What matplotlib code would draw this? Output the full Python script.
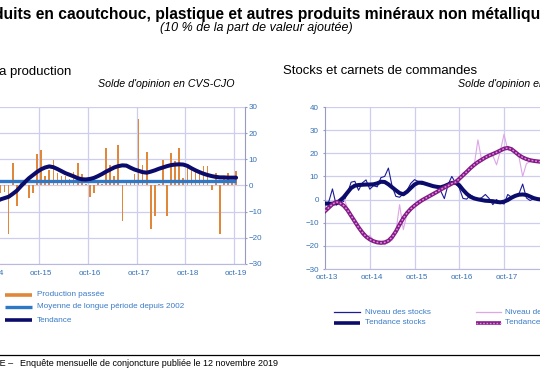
import matplotlib
matplotlib.use("Agg")
import matplotlib.pyplot as plt
from matplotlib.lines import Line2D
import numpy as np

plt.rcParams['font.family'] = ['Liberation Sans', 'DejaVu Sans']

# ---------------- data ----------------
# Left chart: monthly, starting oct-14
production = [-2, -1.5, -3, -2.5, -18.5, 8.6, -8, 1, 0.5, -4.7, -2.8, 12, 13.5, 3.8, 6, 9.6,
              4.8, 3.5, 3.8, 2.5, 5, 8.5, 4.5, 0.5, -4.3, -2.8, 1, 0.5, 14.3, 7.7, 3.8, 15.4,
              -13.7, 1.5, 2, 4.5, 25.4, 8, 12.8, -16.7, -11.8, 0.5, 9.9, -11.8, 12.6, 9.2, 14.2,
              3, 6.9, 6.9, 5.8, 5.8, 7.3, 7.3, -1.7, 4.9, -18.4, 2.5, 4.9, 2, 5.4]
tendance = [-6.5, -6, -5.3, -4.8, -4.3, -3.2, -2, -0.3, 1.3, 2.8, 4.0, 5.2, 6.2, 6.9, 7.3, 7.0,
            6.3, 5.5, 4.7, 4.1, 3.5, 2.8, 2.4, 2.3, 2.5, 2.9, 3.6, 4.4, 5.3, 6.1, 6.9, 7.4,
            7.7, 7.6, 6.8, 6.1, 5.6, 5.1, 4.9, 5.3, 5.8, 6.4, 6.9, 7.4, 7.8, 8.0, 8.1,
            8.0, 7.5, 6.6, 5.8, 5.1, 4.5, 4.0, 3.6, 3.3, 3.1, 3.1, 3.0, 3.0, 3.0]
moyenne = 1.9
left_ticklabels = ["oct-14", "oct-15", "oct-16", "oct-17", "oct-18", "oct-19"]

# Right chart: monthly, starting oct-13
niveau_stocks = [-1.7, -1.0, 4.6, -2.4, -1.5, -0.8, 2.5, 7.5, 7.9, 4.0, 7.2, 8.5, 4.5, 6.0, 5.5, 9.5,
                 10.0, 13.6, 5.7, 1.4, 1.0, 2.5, 4.0, 7.0, 8.6, 7.8, 6.5, 7.0, 6.2, 5.5, 6.0, 3.8,
                 0.4, 6.5, 10.0, 7.2, 5.0, 0.5, 0.2, 2.0, 1.0, 0.2, 0.8, 2.2, 0.5, -2.2, 0.0,
                 -1.5, -1.9, 2.2, 1.0, 1.8, 2.5, 6.7, 0.7, -0.4, 0.5, 0.3, -0.5, 0.5, 0.0]
tendance_stocks = [-1.7, -1.8, -1.8, -1.5, -0.5, 1.0, 3.0, 5.0, 6.0, 6.3, 6.4, 6.5, 6.5, 6.6, 7.0, 7.7,
                   7.6, 6.6, 5.3, 4.0, 2.8, 2.3, 3.4, 5.0, 6.5, 7.3, 7.3, 6.8, 6.3, 5.8, 5.5, 5.3,
                   5.8, 6.5, 7.2, 7.3, 6.2, 4.2, 2.5, 1.2, 0.5, 0.1, -0.2, -0.5, -0.6, -0.7, -1.0,
                   -1.2, -0.9, -0.2, 0.8, 1.6, 2.1, 2.2, 2.0, 1.3, 0.6, 0.2, 0.0, -0.1, -0.2]
niveau_carnets = [-4.0, -3.0, -1.5, -1.0, 0.5, 0.8, -3.5, -6.0, -10.5, -11.5, -15.5, -16.5, -15.5, -17.5,
                  -18.2, -18.0, -19.5, -18.5, -17.5, -14.0, -2.2, -13.0, -6.0, -4.5, -2.0, -1.8, -0.5,
                  1.0, 1.2, 2.8, 3.5, 3.6, 5.8, 6.2, 6.5, 8.5, 9.0, 11.5, 12.5, 14.0, 14.8, 25.8,
                  17.0, 18.5, 19.5, 19.0, 15.0, 21.0, 28.2, 21.5, 21.0, 20.5, 18.5, 10.0, 15.5, 16.5,
                  17.0, 16.5, 16.0, 15.5, 15.0]
tendance_carnets = [-5.0, -3.5, -2.0, -1.0, -1.5, -2.6, -4.5, -7.0, -9.5, -12.0, -14.2, -16.0, -17.2,
                    -18.0, -18.5, -18.7, -18.5, -17.8, -16.2, -13.8, -10.8, -8.0, -5.8, -4.0, -2.6,
                    -1.4, -0.3, 0.6, 1.5, 2.4, 3.3, 4.3, 5.2, 6.0, 6.9, 7.5, 9.0, 10.5, 12.0, 13.6,
                    15.0, 16.2, 17.2, 18.2, 19.0, 19.7, 20.4, 21.2, 22.0, 22.3, 21.8, 20.5, 19.2,
                    18.2, 17.5, 17.0, 16.7, 16.5, 16.3, 16.0, 15.8]
right_ticklabels = ["oct-13", "oct-14", "oct-15", "oct-16", "oct-17", "oct-18", "oct-19"]

# ---------------- style ----------------
ORANGE = '#E0873A'
BLUE = '#2F78C8'
NAVY = '#0B0B6B'
NAVY_THIN = '#1C1C96'
PINK = '#DDA6E6'
PURPLE = '#7D1E80'
PINKDOT = '#F07CF0'
GRID = '#CDCDF0'
TICKC = '#3470B4'
LEGC = '#3A7BC6'

W, H = 540, 375
fig = plt.figure(figsize=(W / 100, H / 100), dpi=100)
fig.patch.set_facecolor('white')


def fx(px):
    return px / W


def fy(py):
    return 1 - py / H


renderer = fig.canvas.get_renderer()


def width_px(s, fs, **kw):
    t = fig.text(0, 0, s, fontsize=fs, **kw)
    w = t.get_window_extent(renderer).width
    t.remove()
    return w


def fit_size(s, target, **kw):
    return 10 * target / width_px(s, 10, **kw)


# ---------------- left chart ----------------
axL = fig.add_axes([fx(-15.7), fy(264), 260.7 / W, 157 / H])
kL = np.arange(len(production))
axL.bar(kL, production, width=0.4, color=ORANGE, zorder=2, linewidth=0)
axL.plot(kL, [moyenne] * len(kL), color=BLUE, lw=2.4, zorder=3, solid_capstyle='butt')
axL.plot(kL, tendance, color=NAVY, lw=2.9, zorder=4, solid_capstyle='round')
axL.set_xlim(-2, 62.2)
axL.set_ylim(-30, 30)
axL.set_yticks(range(-30, 31, 10))
axL.yaxis.tick_right()
axL.set_xticks([12 * j for j in range(len(left_ticklabels))])
axL.set_xticklabels(left_ticklabels)
axL.set_xticks([12 * j - 0.5 for j in range(len(left_ticklabels))], minor=True)
axL.grid(True, which='minor', axis='x', color=GRID, lw=0.9, zorder=0)
axL.grid(True, which='major', axis='y', color=GRID, lw=0.9, zorder=0)
axL.tick_params(axis='x', which='both', length=0, labelsize=5.8, labelcolor=TICKC, pad=4)
axL.tick_params(axis='y', length=1.5, labelsize=5.8, labelcolor=TICKC, pad=1.2, color='#9A9AC0')
for s in ['top', 'left']:
    axL.spines[s].set_visible(False)
axL.spines['right'].set_color('#9A9AC0')
axL.spines['bottom'].set_color('#B8B8E0')
axL.set_axisbelow(True)

# ---------------- right chart ----------------
axR = fig.add_axes([fx(325), fy(269), 276 / W, 162 / H])
mR = np.arange(len(niveau_stocks))
axR.plot(mR, niveau_stocks, color=NAVY_THIN, lw=0.8, zorder=3)
axR.plot(mR, niveau_carnets, color=PINK, lw=0.8, zorder=3)
axR.plot(mR, tendance_stocks, color=NAVY, lw=2.9, zorder=4)
axR.plot(mR, tendance_carnets, color=PURPLE, lw=2.9, zorder=5)
axR.plot(mR, tendance_carnets, color=PINKDOT, lw=1.1, zorder=6, dashes=(1.2, 1.2))
axR.set_xlim(0, 74)
axR.set_ylim(-30, 40)
axR.set_yticks(range(-30, 41, 10))
axR.set_xticks([12 * j + 0.6 for j in range(len(right_ticklabels))])
axR.set_xticklabels(right_ticklabels)
axR.set_xticks([12 * j for j in range(1, len(right_ticklabels))], minor=True)
axR.grid(True, which='minor', axis='x', color=GRID, lw=0.9, zorder=0)
axR.grid(True, which='major', axis='y', color=GRID, lw=0.9, zorder=0)
axR.tick_params(axis='x', which='both', length=0, labelsize=5.8, labelcolor=TICKC, pad=3.5)
axR.tick_params(axis='y', length=1.5, labelsize=5.8, labelcolor=TICKC, pad=3, color='#9A9AC0')
for s in ['top', 'right']:
    axR.spines[s].set_visible(False)
axR.spines['left'].set_color('#9A9AC0')
axR.spines['bottom'].set_color('#B8B8E0')
axR.set_axisbelow(True)

# ---------------- titles ----------------
sub = "uits en caoutchouc, plastique et autres produits minéraux non métalliq"
fs_t = fit_size(sub, 527, weight='bold')
pre = width_px("Prod", fs_t, weight='bold')
fig.text(fx(3 - pre), fy(14.5), "Produits en caoutchouc, plastique et autres produits minéraux non métalliques",
         fontsize=fs_t, weight='bold', ha='left', va='center')

s2 = "(10 % de la part de valeur ajoutée)"
fig.text(fx(160), fy(28), s2, fontsize=fit_size(s2, 193, style='italic'), style='italic',
         ha='left', va='center')

s3 = "Stocks et carnets de commandes"
fs_h = fit_size(s3, 195)
fig.text(fx(283), fy(71), s3, fontsize=fs_h, ha='left', va='center')
fig.text(fx(71), fy(71), "Évolution de la production", fontsize=fs_h, ha='right', va='center')

s4 = "Solde d'opinion en CVS-CJO"
fs_s = fit_size(s4, 137, style='italic')
fig.text(fx(98), fy(84), s4, fontsize=fs_s, style='italic', ha='left', va='center')
fig.text(fx(458), fy(84), s4, fontsize=fs_s, style='italic', ha='left', va='center')

# ---------------- legends ----------------
leg_fs = fit_size("Moyenne de longue période depuis 2002", 149)


def leg_line(x0, x1, y, **kw):
    fig.add_artist(Line2D([fx(x0), fx(x1)], [fy(y), fy(y)], transform=fig.transFigure, **kw))


leg_line(5, 32, 295, color=ORANGE, lw=2.6, solid_capstyle='butt')
leg_line(5, 32, 307, color=BLUE, lw=2.4, solid_capstyle='butt')
leg_line(5, 32, 320, color=NAVY, lw=2.6, solid_capstyle='butt')
fig.text(fx(37), fy(295), "Production passée", fontsize=leg_fs, color=LEGC, va='center')
fig.text(fx(37), fy(307), "Moyenne de longue période depuis 2002", fontsize=leg_fs, color=LEGC, va='center')
fig.text(fx(37), fy(320), "Tendance", fontsize=leg_fs, color=LEGC, va='center')

leg_line(334, 360, 312, color=NAVY_THIN, lw=0.9)
leg_line(334, 360, 323, color=NAVY, lw=2.6, solid_capstyle='butt')
fig.text(fx(365), fy(312), "Niveau des stocks", fontsize=leg_fs, color=LEGC, va='center')
fig.text(fx(365), fy(323), "Tendance stocks", fontsize=leg_fs, color=LEGC, va='center')

leg_line(476, 501, 312, color=PINK, lw=0.9)
leg_line(476, 501, 323, color=PURPLE, lw=2.6, solid_capstyle='butt')
leg_line(476, 501, 323, color=PINKDOT, lw=1.0, dashes=(1.2, 1.2))
fig.text(fx(505), fy(312), "Niveau des carnets", fontsize=leg_fs, color=LEGC, va='center')
fig.text(fx(505), fy(323), "Tendance carnets", fontsize=leg_fs, color=LEGC, va='center')

# ---------------- footer ----------------
fig.add_artist(Line2D([0, 1], [fy(355), fy(355)], transform=fig.transFigure, color='black', lw=0.9))
s5 = "Enquête mensuelle de conjoncture publiée le 12 novembre 2019"
fs_f = fit_size(s5, 260)
fig.text(fx(20), fy(363), s5, fontsize=fs_f, ha='left', va='center')
fig.text(fx(13.5), fy(363), "Source : BANQUE DE FRANCE –", fontsize=fs_f, ha='right', va='center')

fig.savefig("out.png", dpi=100)
